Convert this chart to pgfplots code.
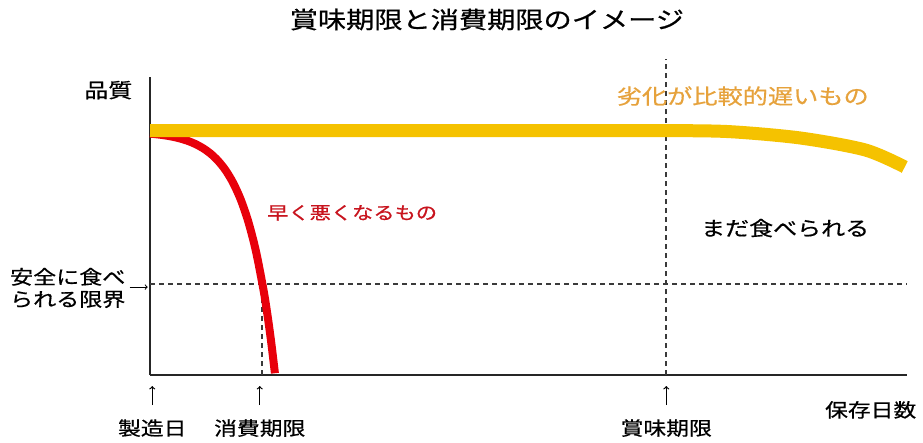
\documentclass[border=0pt]{standalone}
\usepackage{fontspec}
\setmainfont[FakeStretch=1.2, FakeBold=0.6]{Noto Sans CJK JP}
\usepackage{pgfplots}
\pgfplotsset{compat=1.18}
\definecolor{gold}{HTML}{F5C200}
\definecolor{redline}{HTML}{E8000B}
\definecolor{orangetext}{HTML}{E6A23C}
\definecolor{redtext}{HTML}{C8141E}
\definecolor{dashgray}{HTML}{3A3A3A}

\newcommand{\fs}[1]{\fontsize{#1}{#1}\selectfont}

\begin{document}
\begin{tikzpicture}
\begin{axis}[
    at={(0,0)},
    width=757pt, height=298pt,
    scale only axis,
    xmin=0, xmax=100,
    ymin=0, ymax=100,
    axis lines=left,
    axis line style={-, line width=1.8pt, black!85},
    xtick=\empty, ytick=\empty,
    clip=false,
    ]
    % dashed guide lines
    \addplot[dashgray, line width=1.8pt, dash pattern=on 5pt off 4pt]
        coordinates {(0,30.5) (100,30.5)};
    \addplot[dashgray, line width=1.8pt, dash pattern=on 5pt off 4pt]
        coordinates {(14.8,0) (14.8,30.5)};
    \addplot[dashgray, line width=1.8pt, dash pattern=on 5pt off 4pt]
        coordinates {(68.2,0) (68.2,106)};
    % fast deterioration
    \addplot[redline, line width=8pt, smooth]
        coordinates {(0,81) (1,80.74) (2,80.40) (3,79.95) (4,79.35) (5,78.56)
        (6,77.51) (7,76.12) (8,74.29) (9,71.86) (10,68.65) (11,64.39)
        (12,58.77) (13,51.33) (14,41.48) (15,28.45) (15.5,20.43) (16,11.21) (16.5,0.6)};
    % slow deterioration
    \addplot[gold, line width=13pt, smooth]
        coordinates {(0,82) (60,82) (70,82) (77,81.6) (86,79.5) (94.5,75.5) (99.7,69.8)};

    \node[font=\fs{23.5}] at (axis cs:44.5,119.3) {賞味期限と消費期限のイメージ};
    \node[font=\fs{20}] at (axis cs:-5.5,95.6) {品質};
    \node[font=\fs{21}, text=orangetext] at (axis cs:78.3,93.6) {劣化が比較的遅いもの};
    \node[font=\fs{17.7}, text=redtext] at (axis cs:26.7,54.4) {早く悪くなるもの};
    \node[font=\fs{20}] at (axis cs:83.9,49.3) {まだ食べられる};
    \node[font=\fs{19.2}, align=left, anchor=west, inner sep=0pt] at (axis cs:-18.5,29.2)
        {安全に食べ\\[3pt]られる限界};
    \draw[->, line width=1pt] (axis cs:-2.7,29.5) -- (axis cs:-0.3,29.5);

    \draw[->, line width=1.2pt] (axis cs:0.3,-10.1) -- (axis cs:0.3,-3.7);
    \draw[->, line width=1.2pt] (axis cs:14.5,-10.1) -- (axis cs:14.5,-3.7);
    \draw[->, line width=1.2pt] (axis cs:68.2,-10.1) -- (axis cs:68.2,-3.7);
    \node[font=\fs{19}] at (axis cs:0.3,-17.8) {製造日};
    \node[font=\fs{19}] at (axis cs:14.5,-17.8) {消費期限};
    \node[font=\fs{19}] at (axis cs:68.2,-17.8) {賞味期限};
    \node[font=\fs{19}] at (axis cs:95.2,-11.7) {保存日数};

    \coordinate (bl) at (axis cs:-19.815,-22.48);
    \coordinate (tr) at (axis cs:102.11,125.84);
\end{axis}
\pgfresetboundingbox
\path[use as bounding box] (bl) rectangle (tr);
\end{tikzpicture}
\end{document}
